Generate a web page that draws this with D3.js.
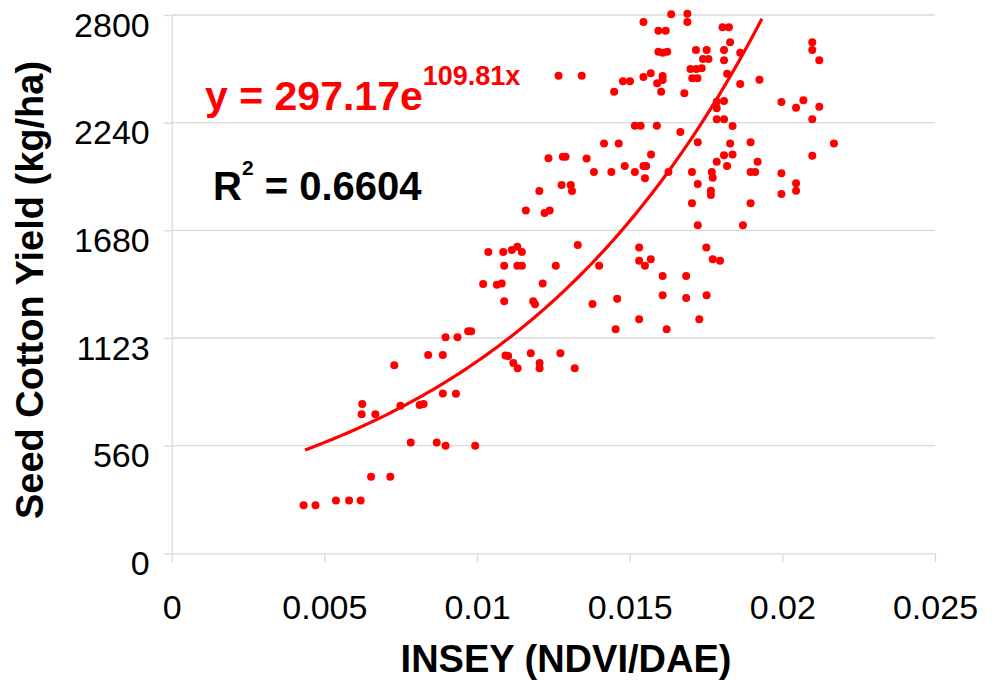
<!DOCTYPE html>
<html>
<head>
<meta charset="utf-8">
<script src="https://cdn.jsdelivr.net/npm/d3@7/dist/d3.min.js"></script>
<style>
  body { margin: 0; background: #fff; }
  text { font-family: "Liberation Sans", Arial, sans-serif; }
</style>
</head>
<body>
<svg id="chart" width="995" height="681"></svg>
<script>
// INSEY (NDVI/DAE) for each plot
const insey = [
  0.00432, 0.00471, 0.00538, 0.00581, 0.00619, 0.00653, 0.00716, 0.00783, 0.00868, 0.00897,
  0.00994, 0.00622, 0.00667, 0.00624, 0.00749, 0.00812, 0.00825, 0.00888, 0.00931, 0.00729,
  0.00840, 0.00888, 0.00897, 0.00936, 0.00971, 0.00981, 0.01093, 0.01102, 0.01119, 0.01133,
  0.01176, 0.01205, 0.01205, 0.01273, 0.01320, 0.01089, 0.01184, 0.01190, 0.01378, 0.01459,
  0.01454, 0.01531, 0.01621, 0.01728, 0.01608, 0.01685, 0.01752, 0.01020, 0.01065, 0.01081,
  0.01215, 0.01089, 0.01132, 0.01147, 0.01258, 0.01400, 0.01037, 0.01086, 0.01114, 0.01132,
  0.01147, 0.01330, 0.01531, 0.01531, 0.01550, 0.01569, 0.01608, 0.01685, 0.01751, 0.01772,
  0.01796, 0.01723, 0.01871, 0.01160, 0.01221, 0.01238, 0.01204, 0.01277, 0.01307, 0.01311,
  0.01234, 0.01281, 0.01290, 0.01359, 0.01383, 0.01440, 0.01484, 0.01517, 0.01545, 0.01554,
  0.01550, 0.01570, 0.01627, 0.01704, 0.01723, 0.01769, 0.01772, 0.01766, 0.01766, 0.01785,
  0.01809, 0.01819, 0.01829, 0.01837, 0.01896, 0.01919, 0.01896, 0.01911, 0.01704, 0.01896,
  0.01997, 0.02045, 0.02045, 0.01997, 0.02098, 0.02169, 0.01416, 0.01464, 0.01517, 0.01536,
  0.01589, 0.01666, 0.01723, 0.01785, 0.01809, 0.01785, 0.01785, 0.01809, 0.01837, 0.01997,
  0.02045, 0.02069, 0.02121, 0.02098, 0.02098, 0.02098, 0.02121, 0.01267, 0.01343, 0.01545,
  0.01569, 0.01608, 0.01608, 0.01590, 0.01603, 0.01478, 0.01501, 0.01449, 0.01699, 0.01718,
  0.01736, 0.01705, 0.01722, 0.01819, 0.01679, 0.01862, 0.01925, 0.01594, 0.01608, 0.01623,
  0.01717, 0.01752, 0.01809, 0.01862, 0.01740, 0.01758, 0.01809, 0.01829, 0.01804, 0.01825,
  0.01594, 0.01618, 0.01545, 0.01636, 0.01689, 0.01689
];

// seed cotton yield, kg/ha
const yieldKg = [
  250, 250, 274, 274, 274, 398, 398, 576, 576, 560,
  560, 723, 723, 777, 768, 771, 777, 831, 830, 978,
  1031, 1031, 1124, 1124, 1155, 1155, 1029, 1026, 990, 962,
  1040, 990, 962, 1040, 962, 1311, 1311, 1296, 1297, 1324,
  1165, 1217, 1165, 1217, 1342, 1328, 1342, 1401, 1397, 1403,
  1403, 1496, 1496, 1496, 1496, 1496, 1567, 1567, 1578, 1595,
  1567, 1604, 1590, 1522, 1496, 1529, 1442, 1442, 1590, 1529,
  1522, 1706, 1706, 1783, 1770, 1783, 1885, 1916, 1916, 1885,
  2055, 2063, 2063, 2054, 1984, 1983, 2015, 1983, 2015, 2015,
  1951, 2075, 1983, 1983, 1921, 1983, 1954, 1886, 1864, 2037,
  2070, 2015, 2131, 2075, 2138, 2037, 1983, 1983, 1821, 1821,
  1977, 1925, 1886, 1869, 2068, 2131, 2131, 2131, 2224, 2224,
  2224, 2191, 2138, 2349, 2353, 2315, 2258, 2258, 2223, 2347,
  2318, 2356, 2323, 2258, 2658, 2618, 2564, 2484, 2484, 2478,
  2497, 2483, 2462, 2445, 2401, 2455, 2455, 2401, 2519, 2519,
  2523, 2471, 2471, 2495, 2393, 2441, 2463, 2609, 2604, 2609,
  2618, 2618, 2618, 2604, 2571, 2571, 2564, 2658, 2736, 2736,
  2718, 2718, 2764, 2804, 2806, 2764
];

const xTicks = [0, 0.005, 0.01, 0.015, 0.02, 0.025];
const xTickLabels = ['0', '0.005', '0.01', '0.015', '0.02', '0.025'];
const yTicks = [0, 560, 1120, 1680, 2240, 2800];
const yTickLabels = ['0', '560', '1123', '1680', '2240', '2800'];

// exponential fit as printed on the chart (fitted in lb/ac, axis relabelled in kg/ha)
const trendA = 297.17;
const trendB = 109.81;
const lbToKg = 1.12;
const trendFrom = 0.00437;
const trendTo = 0.01933;

const svg = d3.select('#chart');
const margin = { top: 15, right: 60, bottom: 127.7, left: 171.7 };
const width = 995, height = 681;
const gridColor = '#d9d9d9';

const x = d3.scaleLinear()
    .domain([0, 0.025])
    .range([margin.left, width - margin.right]);

const y = d3.scaleLinear()
    .domain([0, 2800])
    .range([height - margin.bottom, margin.top]);

// horizontal gridlines
svg.append('g')
    .selectAll('line')
    .data(yTicks.slice(1))
    .enter().append('line')
    .attr('x1', margin.left)
    .attr('x2', width - margin.right)
    .attr('y1', d => y(d))
    .attr('y2', d => y(d))
    .attr('stroke', gridColor)
    .attr('stroke-width', 1.3);

const yAxis = svg.append('g')
    .attr('transform', `translate(${margin.left},0)`)
    .call(d3.axisLeft(y)
        .tickValues(yTicks)
        .tickFormat((d, i) => yTickLabels[i])
        .tickSize(8)
        .tickSizeOuter(0)
        .tickPadding(14));

const xAxis = svg.append('g')
    .attr('transform', `translate(0,${height - margin.bottom})`)
    .call(d3.axisBottom(x)
        .tickValues(xTicks)
        .tickFormat((d, i) => xTickLabels[i])
        .tickSize(9)
        .tickSizeOuter(0)
        .tickPadding(33));

[yAxis, xAxis].forEach(g => {
    g.select('.domain').attr('stroke', gridColor).attr('stroke-width', 1.3);
    g.selectAll('.tick line').attr('stroke', gridColor).attr('stroke-width', 1.3);
    g.selectAll('.tick text')
        .style('font-family', '"Liberation Sans", Arial, sans-serif')
        .style('font-size', '34px')
        .attr('fill', '#000');
});
yAxis.selectAll('.tick text').attr('dy', '0.62em');

// points
svg.append('g')
    .selectAll('circle')
    .data(insey)
    .enter().append('circle')
    .attr('cx', d => x(d))
    .attr('cy', (d, i) => y(yieldKg[i]))
    .attr('r', 4)
    .attr('fill', '#ff0000');

// trend line
const trendX = d3.range(0, 101).map(i => trendFrom + (trendTo - trendFrom) * i / 100);
const line = d3.line()
    .x(d => x(d))
    .y(d => y(trendA * Math.exp(trendB * d) * lbToKg))
    .curve(d3.curveMonotoneX);

svg.append('path')
    .datum(trendX)
    .attr('fill', 'none')
    .attr('stroke', '#ff0000')
    .attr('stroke-width', 3.2)
    .attr('d', line);

// equation
const eq = svg.append('text')
    .attr('x', 205)
    .attr('y', 110)
    .attr('fill', '#ff0000')
    .style('font-weight', 'bold')
    .style('font-size', '41px');
eq.append('tspan').text('y = 297.17e');
eq.append('tspan').attr('dy', -25).style('font-size', '27px').text('109.81x');

const r2 = svg.append('text')
    .attr('x', 213)
    .attr('y', 200)
    .attr('fill', '#000')
    .style('font-weight', 'bold')
    .style('font-size', '40px');
r2.append('tspan').text('R');
r2.append('tspan').attr('dy', -25).style('font-size', '21px').text('2');
r2.append('tspan').attr('dy', 25).text(' = 0.6604');

// axis titles
svg.append('text')
    .attr('transform', 'translate(43,290) rotate(-90)')
    .attr('text-anchor', 'middle')
    .style('font-weight', 'bold')
    .style('font-size', '38px')
    .text('Seed Cotton Yield (kg/ha)');

svg.append('text')
    .attr('x', 566)
    .attr('y', 672)
    .attr('text-anchor', 'middle')
    .style('font-weight', 'bold')
    .style('font-size', '38px')
    .text('INSEY (NDVI/DAE)');
</script>
</body>
</html>
